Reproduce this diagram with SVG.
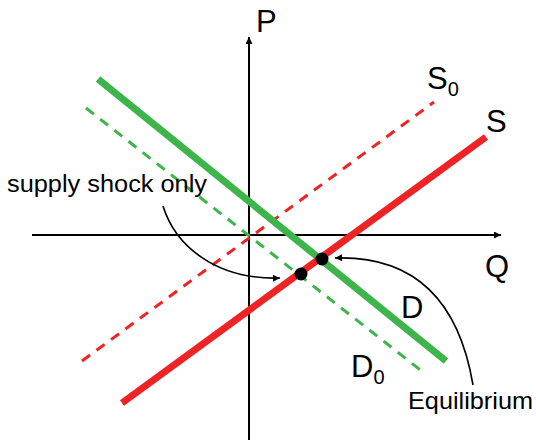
<svg xmlns="http://www.w3.org/2000/svg" width="536" height="440" viewBox="0 0 536 440">
<defs>
<style>
.lbl{font-family:"Liberation Sans",Arial,sans-serif;fill:#000}
.axis{stroke:#000;stroke-width:2;fill:none}
.green{stroke:#3db54a;fill:none}
.red{stroke:#ee2326;fill:none}
.solid{stroke-width:7}
.dash{stroke-width:3;stroke-dasharray:10 8}
.curve{stroke:#000;stroke-width:1.6;fill:none}
.dot{fill:#000}
</style>
<marker id="ahs" viewBox="0 0 10 10" refX="10" refY="5" markerWidth="9" markerHeight="7" markerUnits="userSpaceOnUse" orient="auto">
<path d="M0,0 L10,5 L0,10 Z" fill="#000"/>
</marker>
</defs>
<g id="connectors">
<line id="p-axis" class="axis" x1="249" y1="440" x2="249" y2="37" marker-end="url(#ahs)"/>
<line id="q-axis" class="axis" x1="32" y1="235" x2="501" y2="235" marker-end="url(#ahs)"/>
<line id="D0-line" class="green dash" x1="86" y1="108" x2="423" y2="372"/>
<line id="S0-line" class="red dash" x1="82" y1="361" x2="434" y2="102"/>
<line id="D-line" class="green solid" x1="98" y1="79" x2="446" y2="361"/>
<line id="S-line" class="red solid" x1="122" y1="403" x2="486" y2="137"/>
<path id="shock-arrow" class="curve" d="M163,206 C175,245 215,280 280,278" marker-end="url(#ahs)"/>
<path id="eq-arrow" class="curve" d="M473,385 C462,320 430,255 335,258" marker-end="url(#ahs)"/>
</g>
<g id="eq-point"><circle class="dot" cx="322" cy="259" r="6.5"/></g>
<g id="shock-point"><circle class="dot" cx="301" cy="274" r="6.5"/></g>
<g id="label-P"><text class="lbl" x="256" y="32" font-size="31">P</text></g>
<g id="label-Q"><text class="lbl" x="485" y="277" font-size="31">Q</text></g>
<g id="label-S0"><text class="lbl" x="427" y="89" font-size="31">S<tspan font-size="20" dy="7">0</tspan></text></g>
<g id="label-S"><text class="lbl" x="486" y="132" font-size="31">S</text></g>
<g id="label-D"><text class="lbl" x="401" y="318" font-size="31">D</text></g>
<g id="label-D0"><text class="lbl" x="351" y="377" font-size="31">D<tspan font-size="20" dy="7">0</tspan></text></g>
<g id="label-shock"><text class="lbl" x="7" y="192" font-size="23" textLength="200" lengthAdjust="spacingAndGlyphs">supply shock only</text></g>
<g id="label-eq"><text class="lbl" x="408" y="409" font-size="24" textLength="125" lengthAdjust="spacingAndGlyphs">Equilibrium</text></g>
</svg>
